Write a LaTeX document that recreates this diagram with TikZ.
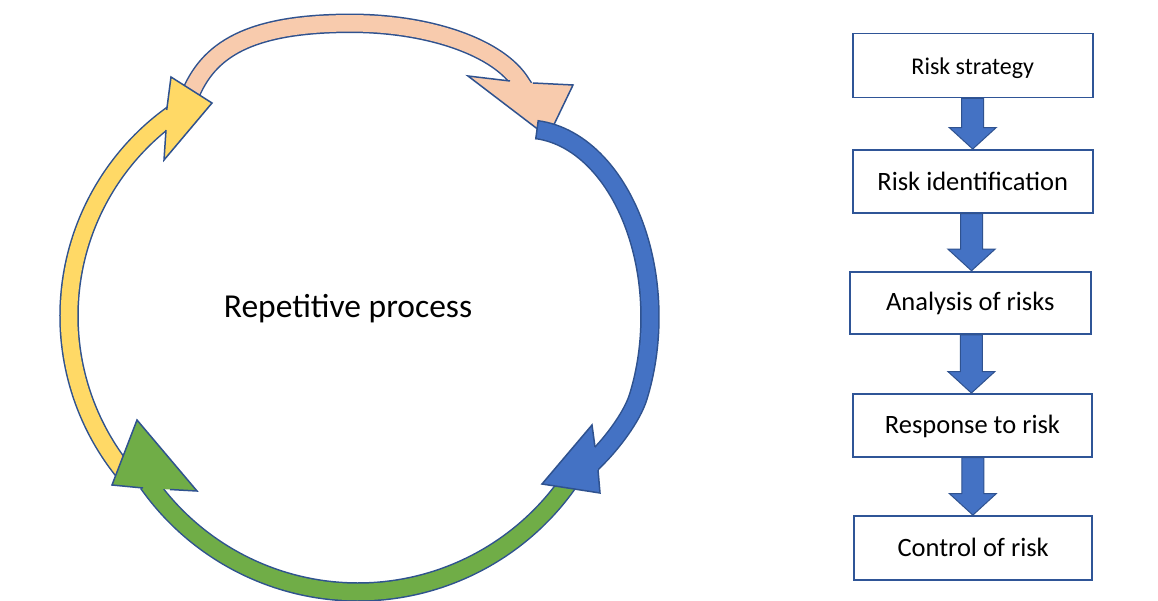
\documentclass[tikz,border=0pt]{standalone}
\usepackage{fontspec}
\setmainfont{Carlito}
\usetikzlibrary{calc}
\definecolor{peach}{HTML}{F8CBAD}
\definecolor{gold}{HTML}{FFD966}
\definecolor{fgreen}{HTML}{70AD47}
\definecolor{fblue}{HTML}{4472C4}
\definecolor{ol}{HTML}{2F528F}
\definecolor{boxline}{HTML}{2F5597}
\tikzset{
  band/.style={draw=ol, line width=1.5pt, double=#1, double distance=16.5pt},
  headline/.style={line width=1.5pt, draw=ol, line join=miter},
  stepbox/.style={draw=boxline, line width=1.8pt, fill=white, inner sep=0pt},
  boxtext/.style={anchor=base, inner sep=0pt, font=\fontsize{26.5}{30}\selectfont},
}
\newcommand\flowarrow[2]{%
  \path[fill=fblue, draw=ol, line width=1pt, line join=miter]
    let \p1=(#1.south), \p2=(#2.north), \n1={(\x1+\x2)/2} in
    (\n1-11pt,\y1) -- (\n1+11pt,\y1) -- (\n1+11pt,\y2+21.5pt) -- (\n1+23.5pt,\y2+21.5pt)
    -- (\n1,\y2) -- (\n1-23.5pt,\y2+21.5pt) -- (\n1-11pt,\y2+21.5pt) -- cycle;}
\begin{document}
\begin{tikzpicture}[x=1pt,y=-1pt]
\useasboundingbox (0,0) rectangle (1158,601);
\fill[white] (0,0) rectangle (1158,601);

% ---- peach arrow (top)
\draw[band=peach] (188,100) .. controls (205,55) and (240,23.3) .. (351,23.3)
   arc[start angle=-90, end angle=-16, x radius=177, y radius=83.2] -- (525.5,90.2);
\fill[peach] (533,83) -- (573,85) -- (548,137) -- (468,76) -- (510,81) -- cycle;
\draw[headline] (533,83) -- (573,85) -- (548,137) -- (468,76) -- (510,81);

% ---- yellow arrow (left)
\draw[band=gold] ($(317,316)+(139:248)$) arc[start angle=139, end angle=235, radius=248];
\fill[gold] (166.7,110) -- (171,77) -- (212,103) -- (164,160) -- (166,130) -- cycle;
\draw[headline] (166.7,110) -- (171,77) -- (212,103) -- (164,160) -- (166,130);

% ---- green arrow (bottom)
\draw[band=fgreen] ($(358,335)+(34:257)$) arc[start angle=34, end angle=144.8, radius=257];
\fill[fgreen] (143,488) -- (112,485) -- (137,420) -- (197,491) -- (170,489.5) -- cycle;
\draw[headline] (143,488) -- (112,485) -- (137,420) -- (197,491) -- (170,489.5);

% ---- blue arrow (right)
\draw[band=fblue] (537.0,129.7) arc[start angle=-84.9, end angle=25, x radius=124, y radius=188]
   .. controls (632,417.4) and (611.1,443.9) .. (597,458) -- (589,466);
\draw[ol, line width=1.5pt] (538.3,120) -- (535.7,139.4);
\fill[fblue] (598,470) -- (600,493) -- (542,484) -- (592,425) -- (595,447) -- cycle;
\draw[headline] (598,470) -- (600,493) -- (542,484) -- (592,425) -- (595,447);

\node[anchor=base, inner sep=0pt, font=\fontsize{33.5}{38}\selectfont] (rp) at (348,317.5) {Repetitive process};

% ---- flowchart
\node[stepbox, minimum width=240pt, minimum height=64pt] (b1) at (972.7,65.5) {};
\node[stepbox, minimum width=240pt, minimum height=62.7pt] (b2) at (972.7,181.3) {};
\node[stepbox, minimum width=240.7pt, minimum height=62.3pt] (b3) at (970.3,302.8) {};
\node[stepbox, minimum width=239.6pt, minimum height=62.7pt] (b4) at (972.5,425.3) {};
\node[stepbox, minimum width=238.3pt, minimum height=64pt] (b5) at (973.2,548) {};

\flowarrow{b1}{b2}
\flowarrow{b2}{b3}
\flowarrow{b3}{b4}
\flowarrow{b4}{b5}

\node[boxtext, font=\fontsize{24}{28}\selectfont] (t1) at (972.7,75) {Risk strategy};
\node[boxtext] (t2) at (972.7,191) {Risk identification};
\node[boxtext] (t3) at (970.3,310.5) {Analysis of risks};
\node[boxtext] (t4) at (972.5,433.5) {Response to risk};
\node[boxtext] (t5) at (973.2,556.5) {Control of risk};
\end{tikzpicture}
\end{document}
